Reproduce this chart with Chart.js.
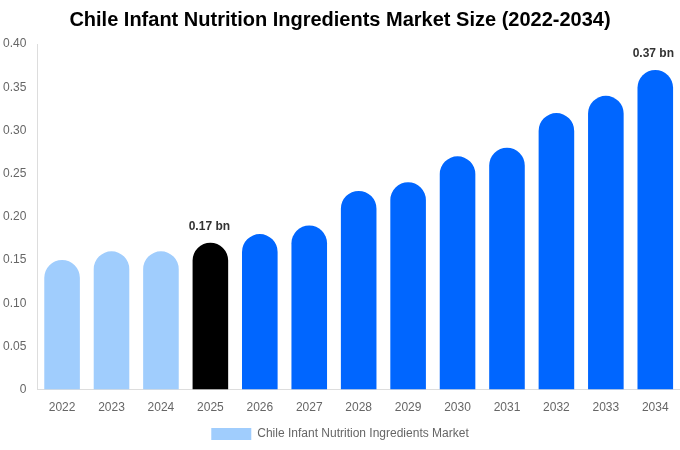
<!DOCTYPE html>
<html>
<head>
<meta charset="utf-8">
<script src="https://cdn.jsdelivr.net/npm/chart.js@4"></script>
<style>
  html, body { margin: 0; padding: 0; background: #fff; }
  #wrap { width: 680px; height: 450px; }
</style>
</head>
<body>
<div id="wrap"><canvas id="myChart1"></canvas></div>
<script>
// chart values
const years = ["2022", "2023", "2024", "2025", "2026", "2027", "2028", "2029", "2030", "2031", "2032", "2033", "2034"];
const marketSize = [0.15, 0.16, 0.16, 0.17, 0.18, 0.19, 0.23, 0.24, 0.27, 0.28, 0.32, 0.34, 0.37];
const barColors = ["#a0cdfd", "#a0cdfd", "#a0cdfd", "#000000", "#0066ff", "#0066ff", "#0066ff", "#0066ff", "#0066ff", "#0066ff", "#0066ff", "#0066ff", "#0066ff"];
const labelled = { 3: "0.17 bn", 12: "0.37 bn" };

// draw value text above chosen bars
const valueLabels = {
  id: "valueLabels",
  afterDatasetsDraw(chart) {
    const ctx = chart.ctx;
    const meta = chart.getDatasetMeta(0);
    ctx.save();
    ctx.font = "bold 12px 'Liberation Sans', Arial, sans-serif";
    ctx.fillStyle = "#333";
    ctx.textAlign = "center";
    ctx.textBaseline = "bottom";
    for (const i in labelled) {
      const bar = meta.data[i];
      const w = ctx.measureText(labelled[i]).width;
      const x = Math.min(bar.x - 1, chart.width - w / 2 - 6);
      ctx.fillText(labelled[i], x, bar.y - 10);
    }
    ctx.restore();
  },
};

Chart.defaults.font.family = "'Liberation Sans', Arial, sans-serif";
Chart.defaults.color = "#666";

new Chart(document.getElementById("myChart1"), {
  type: "bar",
  data: {
    labels: years,
    datasets: [
      {
        label: "Chile Infant Nutrition Ingredients Market",
        data: marketSize,
        backgroundColor: barColors,
        borderRadius: { topLeft: 20, topRight: 20 },
        borderSkipped: "start",
        barPercentage: 0.9,
        categoryPercentage: 0.8,
      },
    ],
  },
  options: {
    responsive: true,
    maintainAspectRatio: false,
    animation: false,
    layout: { padding: { left: 0, right: 0, top: 0, bottom: 0 } },
    plugins: {
      title: {
        display: true,
        text: "Chile Infant Nutrition Ingredients Market Size (2022-2034)",
        color: "#000",
        font: { size: 20, weight: "bold" },
        padding: { top: 8, bottom: 12 },
      },
      legend: {
        position: "bottom",
        labels: { boxWidth: 40, boxHeight: 12, font: { size: 12 }, color: "#666" },
      },
      tooltip: { enabled: false },
    },
    scales: {
      x: {
        grid: { display: false },
        border: { display: true, color: "#ddd" },
        ticks: { font: { size: 12 }, color: "#666" },
      },
      y: {
        min: 0,
        max: 0.4,
        grid: { display: false },
        border: { display: true, color: "#ddd" },
        ticks: {
          stepSize: 0.05,
          font: { size: 12 },
          color: "#666",
          callback: (v) => (v === 0 ? "0" : v.toFixed(2)),
        },
      },
    },
  },
  plugins: [valueLabels],
});
</script>
</body>
</html>
